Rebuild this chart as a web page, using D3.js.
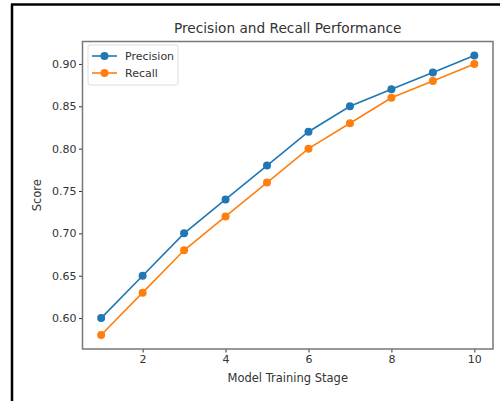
<!DOCTYPE html>
<html>
<head>
<meta charset="utf-8">
<script src="https://cdn.jsdelivr.net/npm/d3@7"></script>
<style>
  body { margin: 0; background: #fff; }
  text { font-family: "DejaVu Sans", sans-serif; fill: #333; }
</style>
</head>
<body>
<svg width="500" height="401"></svg>
<script>
// ### Data ###
var stages = [1, 2, 3, 4, 5, 6, 7, 8, 9, 10]
var precision = [0.60, 0.65, 0.70, 0.74, 0.78, 0.82, 0.85, 0.87, 0.89, 0.91]
var recall = [0.58, 0.63, 0.68, 0.72, 0.76, 0.80, 0.83, 0.86, 0.88, 0.90]
var xTicks = [2, 4, 6, 8, 10]
var yTicks = [0.60, 0.65, 0.70, 0.75, 0.80, 0.85, 0.90]
var seriesNames = ['Precision', 'Recall']
var seriesColors = ['#1f77b4', '#ff7f0e']

// ### Canvas ###
var margin = {top: 41.5, right: 7, bottom: 52, left: 82.5}
var width = 500 - margin.left - margin.right
var height = 401 - margin.top - margin.bottom

var svg = d3.select('svg')

// outer frame (top and left black edges)
svg.append('line').attr('x1', 11).attr('x2', 500).attr('y1', 4.5).attr('y2', 4.5)
	.attr('stroke', '#000').attr('stroke-width', 2.5)
svg.append('line').attr('x1', 12).attr('x2', 12).attr('y1', 4).attr('y2', 401)
	.attr('stroke', '#000').attr('stroke-width', 2.5)

var g = svg.append('g').attr('transform', `translate(${margin.left},${margin.top})`)

// ### Scales ###
var xPad = (d3.max(stages) - d3.min(stages)) * 0.05
var xScale = d3.scaleLinear()
				.domain([d3.min(stages) - xPad, d3.max(stages) + xPad])
				.range([0, width])
var allY = precision.concat(recall)
var yPad = (d3.max(allY) - d3.min(allY)) * 0.05
var yScale = d3.scaleLinear()
				.domain([d3.min(allY) - yPad, d3.max(allY) + yPad])
				.range([height, 0])

// ### Axes ###
var xAxis = d3.axisBottom(xScale).tickValues(xTicks).tickSize(3.5).tickSizeOuter(0)
var yAxis = d3.axisLeft(yScale).tickValues(yTicks).tickFormat(d3.format('.2f')).tickSize(3.5).tickSizeOuter(0)

var gx = g.append('g').attr('transform', `translate(0,${height})`).call(xAxis)
var gy = g.append('g').call(yAxis)
gx.select('.domain').remove()
gy.select('.domain').remove()
g.selectAll('.tick line').attr('stroke', '#333')
g.selectAll('.tick text').style('font-size', '11px').attr('fill', '#333')
gx.selectAll('.tick text').attr('dy', '0.71em').attr('y', 6)
gy.selectAll('.tick text').attr('x', -6)

// frame of axes
g.append('rect').attr('width', width).attr('height', height)
	.attr('fill', 'none').attr('stroke', '#777').attr('stroke-width', 1.5)

// ### Lines ###
var series = [precision, recall]
var line = d3.line().x((d, i) => xScale(stages[i])).y(d => yScale(d))

series.forEach(function(vals, k) {
	g.append('path').datum(vals)
		.attr('d', line)
		.attr('fill', 'none')
		.attr('stroke', seriesColors[k])
		.attr('stroke-width', 1.6)
	g.selectAll('.dot' + k)
		.data(vals)
		.enter()
		.append('circle')
		.attr('cx', (d, i) => xScale(stages[i]))
		.attr('cy', d => yScale(d))
		.attr('r', 4)
		.attr('fill', seriesColors[k])
})

// ### Labels ###
svg.append('text').attr('x', margin.left + width / 2).attr('y', 33)
	.attr('text-anchor', 'middle').style('font-size', '13.7px').text('Precision and Recall Performance')
svg.append('text').attr('x', margin.left + width / 2).attr('y', 382)
	.attr('text-anchor', 'middle').style('font-size', '11.5px').text('Model Training Stage')
svg.append('text').attr('transform', `translate(41,${margin.top + height / 2}) rotate(-90)`)
	.attr('text-anchor', 'middle').style('font-size', '11.5px').text('Score')

// ### Legend ###
var legend = g.append('g').attr('transform', 'translate(5.5,3.5)')
legend.append('rect').attr('width', 90).attr('height', 40).attr('rx', 2)
	.attr('fill', '#fff').attr('stroke', '#ddd')
seriesNames.forEach(function(name, k) {
	var y = 11 + k * 17
	legend.append('line').attr('x1', 4).attr('x2', 29).attr('y1', y).attr('y2', y)
		.attr('stroke', seriesColors[k]).attr('stroke-width', 1.6)
	legend.append('circle').attr('cx', 16.5).attr('cy', y).attr('r', 4).attr('fill', seriesColors[k])
	legend.append('text').attr('x', 37).attr('y', y).attr('dy', '0.35em')
		.style('font-size', '11px').text(name)
})
</script>
</body>
</html>
